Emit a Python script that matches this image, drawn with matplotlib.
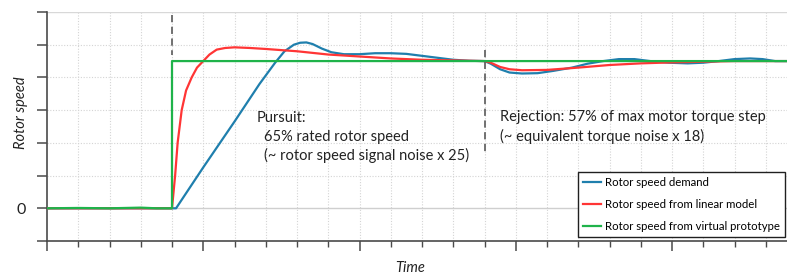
import matplotlib
matplotlib.use("Agg")
import matplotlib.pyplot as plt
from matplotlib.ticker import MultipleLocator, FixedLocator, FixedFormatter

# ---- data ----
demand_t = [0, 4.13, 5.0, 6.0, 6.8, 7.3, 7.6, 7.9, 8.1, 8.3, 8.5, 8.8, 9.1, 9.5,
            10.0, 10.5, 11.0, 11.5, 12.0, 12.5, 13.0, 13.5, 14.0,
            14.2, 14.5, 14.8, 15.2, 15.7, 16.2, 16.8, 17.3, 17.8, 18.3, 18.8,
            19.3, 19.9, 20.5, 21.0, 21.5, 22.0, 22.5, 22.9, 23.3, 23.8]
demand_v = [0, 0, 1.25, 2.65, 3.8, 4.45, 4.8, 5.0, 5.06, 5.07, 5.02, 4.88, 4.77, 4.71,
            4.71, 4.74, 4.74, 4.72, 4.66, 4.6, 4.54, 4.51, 4.5,
            4.42, 4.25, 4.15, 4.12, 4.13, 4.2, 4.3, 4.42, 4.5, 4.56, 4.56,
            4.5, 4.45, 4.43, 4.45, 4.5, 4.56, 4.58, 4.56, 4.5, 4.5]

linear_t = [0, 4.0, 4.05, 4.1, 4.18, 4.31, 4.45, 4.63, 4.8, 5.0, 5.2, 5.43, 5.7,
            6.0, 6.5, 7.0, 8.0, 9.0, 10.0, 11.0, 12.0, 13.0, 14.0,
            14.2, 14.5, 14.8, 15.2, 16.0, 17.0, 18.0, 19.0, 20.0, 21.0, 22.0, 23.8]
linear_v = [0, 0, 0.5, 1.0, 2.0, 3.0, 3.6, 4.0, 4.3, 4.5, 4.7, 4.85, 4.9,
            4.92, 4.9, 4.87, 4.8, 4.7, 4.64, 4.58, 4.54, 4.52, 4.5,
            4.45, 4.32, 4.25, 4.22, 4.23, 4.3, 4.38, 4.43, 4.46, 4.48, 4.5, 4.5]

virtual_t = [0, 1.0, 2.0, 3.0, 3.5, 4.0, 4.0, 23.8]
virtual_v = [0, 0.01, 0, 0.02, 0, 0, 4.5, 4.5]

labels = ["Rotor speed demand", "Rotor speed from linear model",
          "Rotor speed from virtual prototype"]
colors = ["#1f7fad", "#ff3535", "#1fb34a"]

FONT = "Lato"

W, H = 787, 277
fig = plt.figure(figsize=(W / 100, H / 100), dpi=100)
ax = fig.add_axes([47 / W, (H - 241) / H, (W - 47) / W, (241 - 12) / H])

ax.set_xlim(0, 23.68)
ax.set_ylim(-1, 6)

# grid
for x in range(1, 24):
    ax.axvline(x, color="#d4d4d4", lw=0.8, ls=(0, (1, 1.5)), zorder=0)
for y in range(1, 6):
    ax.axhline(y, color="#d4d4d4", lw=0.8, ls=(0, (1, 1.5)), zorder=0)
ax.axhline(0, color="#cfcfcf", lw=1.0, zorder=0)
ax.axhline(6, color="#d8d8d8", lw=1.0, zorder=0)

l1, = ax.plot(demand_t, demand_v, color=colors[0], lw=1.6, zorder=3)
l2, = ax.plot(linear_t, linear_v, color=colors[1], lw=1.6, zorder=4)
l3, = ax.plot(virtual_t, virtual_v, color=colors[2], lw=1.6, zorder=5)

# dashed event markers
ax.plot([4.0, 4.0], [5.9, 4.7], color="#666666", lw=1.3, ls=(0, (4, 2.5)), zorder=6)
ax.plot([14.0, 14.0], [4.83, 1.68], color="#666666", lw=1.3, ls=(0, (4, 2.5)), zorder=6)

# spines and ticks
for s in ["top", "right"]:
    ax.spines[s].set_visible(False)
for s in ["left", "bottom"]:
    ax.spines[s].set_color("#4a4a4a")
    ax.spines[s].set_linewidth(1.2)

ax.xaxis.set_major_locator(MultipleLocator(5))
ax.xaxis.set_minor_locator(MultipleLocator(1))
ax.tick_params(axis="x", which="major", length=7, width=1.1, color="#4a4a4a", labelbottom=False)
ax.tick_params(axis="x", which="minor", length=4, width=1.0, color="#4a4a4a")
ax.yaxis.set_major_locator(FixedLocator(list(range(-1, 7))))
ax.yaxis.set_major_formatter(FixedFormatter(["", "0", "", "", "", "", "", ""]))
ax.tick_params(axis="y", which="major", length=7, width=1.1, color="#4a4a4a",
               labelsize=11.5, labelcolor="#222222", pad=8)
for lab in ax.get_yticklabels():
    lab.set_fontfamily(FONT)

# axis labels
fig.text(21 / W, 1 - 113 / H, "Rotor speed", rotation=90, ha="center", va="center",
         fontsize=10.5, style="italic", family=FONT, color="#222222")
fig.text(410 / W, 1 - 268 / H, "Time", ha="center", va="center",
         fontsize=10.5, style="italic", family=FONT, color="#222222")

# annotations
tkw = dict(fontsize=10.5, family=FONT, color="#222222", va="baseline", ha="left")
fig.text(257 / W, 1 - 121.5 / H, "Pursuit:", **tkw)
fig.text(264 / W, 1 - 141 / H, "65% rated rotor speed", **tkw)
fig.text(264 / W, 1 - 160 / H, "(~ rotor speed signal noise x 25)", **tkw)
fig.text(500 / W, 1 - 121.5 / H, "Rejection: 57% of max motor torque step", **tkw)
fig.text(500 / W, 1 - 141 / H, "(~ equivalent torque noise x 18)", **tkw)

leg = fig.legend([l1, l2, l3], labels, loc="upper left",
                 bbox_to_anchor=(578 / W, 1 - 172 / H),
                 prop={"family": FONT, "size": 8.2},
                 frameon=True, fancybox=False, framealpha=1,
                 edgecolor="#202020", borderaxespad=0, borderpad=0.45,
                 handlelength=1.6, handletextpad=0.35, labelspacing=0.95)
leg.get_frame().set_linewidth(1.0)
leg.set_zorder(10)

fig.savefig("out.png", dpi=100)
